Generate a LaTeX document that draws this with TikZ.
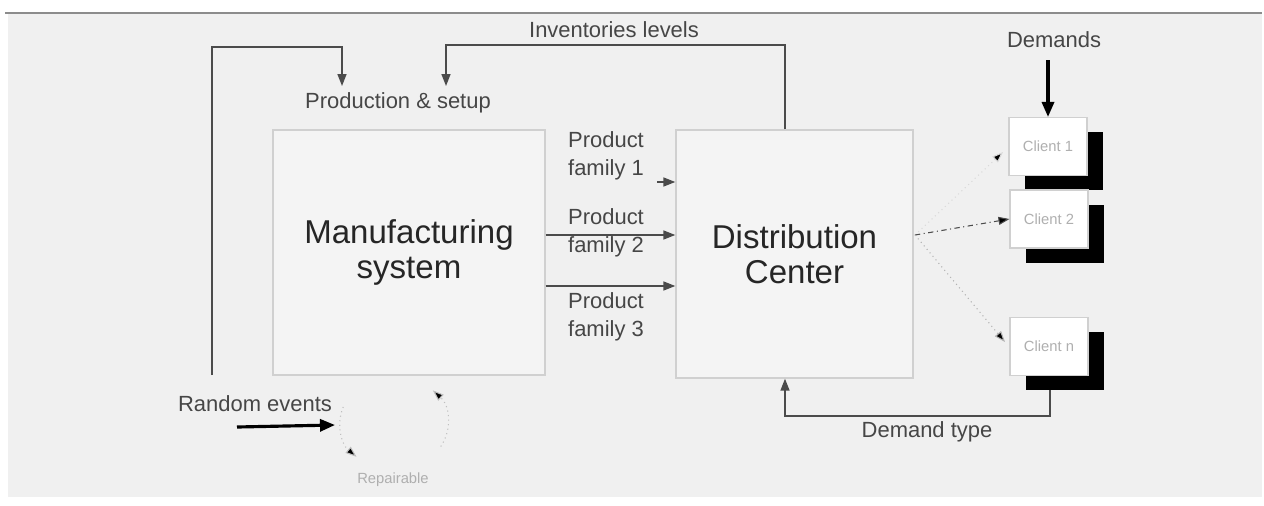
\documentclass[tikz,border=0pt]{standalone}
\usepackage{fontspec}
\setmainfont{Liberation Sans}
\usetikzlibrary{arrows.meta,shadows}

\definecolor{bgcol}{RGB}{240,240,240}
\definecolor{boxfill}{RGB}{244,244,244}
\definecolor{boxline}{RGB}{208,208,208}
\definecolor{linecol}{RGB}{75,75,75}
\definecolor{txtcol}{RGB}{70,70,70}
\definecolor{faint}{RGB}{175,175,175}

\tikzset{
  bigbox/.style={draw=boxline, fill=boxfill, line width=0.8pt, inner sep=0pt,
    align=center, text=black!85, font=\fontsize{18.8}{20}\selectfont},
  client/.style={draw=boxline, fill=white, line width=0.6pt, inner sep=0pt,
    minimum width=1.56cm, minimum height=1.16cm, text=faint,
    font=\fontsize{8.4}{10}\selectfont,
    drop shadow={shadow xshift=0.32cm, shadow yshift=-0.29cm, fill=black, opacity=1}},
  lbl/.style={text=txtcol, align=center, inner sep=0pt,
    font=\fontsize{12.5}{16}\selectfont},
  flow/.style={draw=linecol, line width=0.9pt,
    -{Triangle[length=0.24cm,width=0.18cm]}},
  heavy/.style={draw=black, line width=1.8pt,
    -{Triangle[length=0.3cm,width=0.24cm]}},
  thin/.style={draw=faint, line width=0.6pt,
    -{Triangle[length=0.22cm,width=0.16cm,fill=black]}},
}

\begin{document}
\begin{tikzpicture}[x=0.02cm,y=-0.02cm]
  \useasboundingbox (0,0) rectangle (1264,505);
  \fill[white] (0,0) rectangle (1264,505);
  \fill[bgcol] (8,14) rectangle (1262,497);
  \draw[black!45, line width=1.4pt] (5,13) -- (1262,13);

  % main blocks
  \node[bigbox, minimum width=5.44cm, minimum height=4.9cm] (mfg) at (409,252.5)
    {Manufacturing\\system};
  \node[bigbox, minimum width=4.74cm, minimum height=4.96cm] (dc) at (794.5,254)
    {Distribution\\Center};

  % clients
  \node[client] (c1) at (1048,146.5) {Client 1};
  \node[client] (c2) at (1049,219) {Client 2};
  \node[client] (cn) at (1049,346.5) {Client n};

  % labels
  \node[lbl] (prod) at (398,103) {Production \& setup};
  \node[lbl] (inv) at (614,30) {Inventories levels};
  \node[lbl] (dem) at (1054,40) {Demands};
  \node[lbl] (pf1) at (606,156) {Product\\family 1};
  \node[lbl] (pf2) at (606,233) {Product\\family 2};
  \node[lbl] (pf3) at (606,317) {Product\\family 3};
  \node[lbl] (rand) at (255,404) {Random events};
  \node[lbl] (dtype) at (927,432) {Demand type};
  \node[text=faint, inner sep=0pt, font=\fontsize{8.4}{10}\selectfont] (rep) at (393,480) {Repairable};

  % feedback loops into production
  \coordinate (loopstart) at (212,375);
  \coordinate (pin1) at (342,86);
  \coordinate (pin2) at (446,86);
  \draw[flow] (loopstart) -- (212,47) -- (342,47) -- (pin1);
  \draw[flow] (dc.north -| 785,0) -- (785,45) -- (446,45) -- (pin2);

  % product families
  \draw[flow] (657,182) -- (dc.west |- 0,182);
  \draw[flow] (mfg.east |- 0,235) -- (dc.west |- 0,235);
  \draw[flow] (mfg.east |- 0,286) -- (dc.west |- 0,286);

  % distribution to clients
  \coordinate (dcout) at (915,235);
  \draw[thin, dotted, draw=black!15] (dcout) -- (1003,152);
  \draw[thin, dash dot, draw=linecol] (dcout) -- (c2.west);
  \draw[thin, dotted, draw=black!30] (dcout) -- (1005,342);

  % demands
  \coordinate (demstart) at (1048,60);
  \draw[heavy] (demstart) -- (c1.north);
  \draw[flow] (1050,390) -- (1050,416) -- (785,416) -- (dc.south -| 785,0);

  % random events and repair cycle
  \draw[heavy] (237,427) -- (335,425);
  \draw[thin, dotted, draw=black!25] (394,423) ++(200:54 and 47) arc[start angle=200, end angle=134, x radius=54, y radius=47];
  \draw[thin, dotted, draw=black!25] (394,423) ++(30:54 and 47) arc[start angle=30, end angle=-44, x radius=54, y radius=47];
\end{tikzpicture}
\end{document}
